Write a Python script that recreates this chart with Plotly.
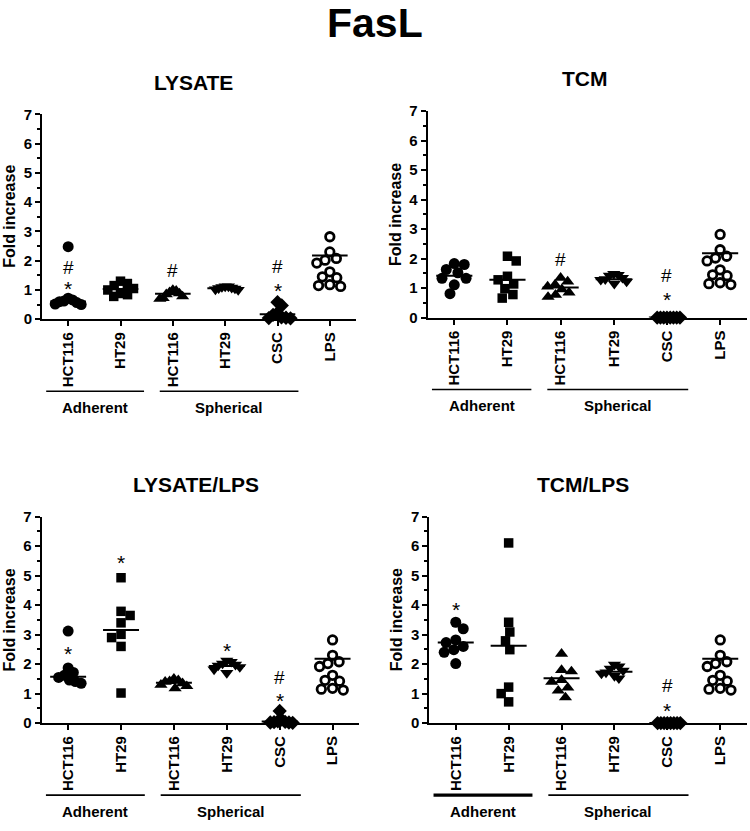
import numpy as np
import plotly.graph_objects as go

W, H = 750, 831
FONT = "Liberation Sans"

# ---------------- data ----------------
tick_labels = ["HCT116", "HT29", "HCT116", "HT29", "CSC", "LPS"]
panel_titles = ["LYSATE", "TCM", "LYSATE/LPS", "TCM/LPS"]
main_title = "FasL"
group_names = ["Adherent", "Spherical"]

lps_values = [2.82, 2.30, 2.08, 2.02, 1.92, 1.62, 1.45, 1.42, 1.18, 1.15, 1.12]

# LYSATE
lys_hct116_adh = [2.48, 0.72, 0.66, 0.62, 0.60, 0.57, 0.52, 0.50]
lys_ht29_adh = [1.30, 1.22, 1.15, 1.05, 1.00, 0.88, 0.84, 0.78]
lys_hct116_sph = [1.00, 0.97, 0.92, 0.88, 0.85, 0.78, 0.72, 0.70]
lys_ht29_sph = [1.12, 1.12, 1.10, 1.08, 1.06, 1.05, 1.02, 1.00]
lys_csc = [0.58, 0.47, 0.22, 0.15, 0.06, 0.05, 0.04, 0.03]
lys_lines = [0.61, 1.03, 0.87, 1.06, 0.17, 2.18]

# TCM
tcm_hct116_adh = [1.83, 1.80, 1.63, 1.52, 1.33, 1.33, 1.11, 0.81]
tcm_ht29_adh = [2.08, 1.92, 1.40, 1.28, 1.14, 0.98, 0.78, 0.66]
tcm_hct116_sph = [1.35, 1.22, 1.12, 1.05, 0.96, 0.85, 0.77, 0.70]
tcm_ht29_sph = [1.48, 1.45, 1.42, 1.35, 1.30, 1.28, 1.22, 1.15]
tcm_csc = [0.0, 0.0, 0.0, 0.0, 0.0, 0.0, 0.0, 0.0]
tcm_lines = [1.42, 1.28, 1.02, 1.30, 0.0, 2.18]

# LYSATE/LPS
lyslps_hct116_adh = [3.12, 1.87, 1.72, 1.62, 1.55, 1.46, 1.41, 1.35]
lyslps_ht29_adh = [4.93, 3.79, 3.65, 3.40, 3.01, 2.90, 2.60, 1.02]
lyslps_hct116_sph = [1.50, 1.45, 1.42, 1.40, 1.35, 1.30, 1.25, 1.18]
lyslps_ht29_sph = [2.12, 2.08, 2.02, 1.98, 1.95, 1.90, 1.82, 1.70]
lyslps_csc = [0.41, 0.12, 0.06, 0.04, 0.03, 0.02, 0.02, 0.01]
lyslps_lines = [1.57, 3.16, 1.37, 1.94, 0.05, 2.18]

# TCM/LPS
tcmlps_hct116_adh = [3.42, 3.20, 2.82, 2.73, 2.60, 2.49, 2.40, 2.02]
tcmlps_ht29_adh = [6.11, 3.42, 3.09, 2.79, 2.49, 1.22, 1.00, 0.72]
tcmlps_hct116_sph = [2.35, 1.80, 1.75, 1.46, 1.40, 1.20, 1.10, 0.87]
tcmlps_ht29_sph = [1.98, 1.92, 1.85, 1.78, 1.72, 1.68, 1.60, 1.52]
tcmlps_csc = [0.0, 0.0, 0.0, 0.0, 0.0, 0.0, 0.0, 0.0]
tcmlps_lines = [2.73, 2.62, 1.52, 1.74, 0.0, 2.18]

# significance marks: (category index, symbol, y value)
lys_marks = [(0, "*", 1.17), (0, "#", 1.74), (2, "#", 1.62), (4, "*", 1.09), (4, "#", 1.76)]
tcm_marks = [(2, "#", 1.94), (4, "*", 0.72), (4, "#", 1.38)]
lyslps_marks = [(0, "*", 2.46), (1, "*", 5.54), (3, "*", 2.57), (4, "*", 0.87), (4, "#", 1.52)]
tcmlps_marks = [(0, "*", 3.95), (4, "*", 0.54), (4, "#", 1.24)]

panels_data = [
    [lys_hct116_adh, lys_ht29_adh, lys_hct116_sph, lys_ht29_sph, lys_csc, lps_values],
    [tcm_hct116_adh, tcm_ht29_adh, tcm_hct116_sph, tcm_ht29_sph, tcm_csc, lps_values],
    [lyslps_hct116_adh, lyslps_ht29_adh, lyslps_hct116_sph, lyslps_ht29_sph, lyslps_csc, lps_values],
    [tcmlps_hct116_adh, tcmlps_ht29_adh, tcmlps_hct116_sph, tcmlps_ht29_sph, tcmlps_csc, lps_values],
]
panels_lines = [lys_lines, tcm_lines, lyslps_lines, tcmlps_lines]
panels_marks = [lys_marks, tcm_marks, lyslps_marks, tcmlps_marks]

# ---------------- layout geometry (pixels) ----------------
# (left, right, top(y=7), bottom(y=0))
boxes = [(42, 356, 107.7, 316.7), (427.7, 746.7, 104.3, 315.0),
         (41.7, 359, 518.3, 729.0), (429.3, 746.7, 518.3, 729.0)]
title_pos = [(193, 75), (585, 71), (195.7, 485), (583, 485)]
group_spans = [(-0.42, 1.45), (1.75, 4.4)]
adherent_width = [1.6, 1.6, 1.6, 3.2]

styles = [
    dict(symbol="circle", size=11, color="black"),
    dict(symbol="square", size=9.5, color="black"),
    dict(symbol="triangle-up", size=11.5, color="black"),
    dict(symbol="triangle-down", size=11.5, color="black"),
    dict(symbol="diamond", size=11, color="black"),
    dict(symbol="circle-open", size=8.5, color="black", line=dict(width=2.8, color="black")),
]


def swarm(values, xppu, yppu, d=10.0, maxhalf=13.0):
    vals = np.asarray(values, float)
    order = np.argsort(-vals, kind="stable")
    placed = []
    offs = np.zeros(len(vals))
    flip = 1
    for i in order:
        y = vals[i] * yppu
        cands = [0.0]
        for (px, py) in placed:
            dy = y - py
            if abs(dy) < d:
                dx = np.sqrt(d * d - dy * dy)
                cands += [px + dx, px - dx]
        cands.sort(key=lambda c: (round(abs(c), 3), -flip * c))
        chosen = 0.0
        for c in cands:
            if all((c - px) ** 2 + (y - py) ** 2 >= d * d - 1e-6 for px, py in placed):
                chosen = c
                break
        if chosen != 0:
            flip = -flip
        placed.append((chosen, y))
        offs[i] = chosen
    m = np.max(np.abs(offs))
    if m > maxhalf:
        offs *= maxhalf / m
    return offs / xppu


fig = go.Figure()
annotations = []
shapes = []

bold = dict(family=FONT, color="black", weight="bold")

for p in range(4):
    L, R, T, B = boxes[p]
    xa = "xaxis" if p == 0 else f"xaxis{p + 1}"
    ya = "yaxis" if p == 0 else f"yaxis{p + 1}"
    xr = "x" if p == 0 else f"x{p + 1}"
    yr = "y" if p == 0 else f"y{p + 1}"
    xppu = (R - L) / 6.0
    yppu = (B - T) / 7.0

    for c, vals in enumerate(panels_data[p]):
        offs = swarm(vals, xppu, yppu)
        st = dict(styles[c])
        fig.add_trace(go.Scatter(
            x=c + offs, y=vals, mode="markers", xaxis=xr, yaxis=yr,
            marker=st, cliponaxis=False, showlegend=False, hoverinfo="y"))
        shapes.append(dict(type="line", xref=xr, yref=yr, x0=c - 0.34, x1=c + 0.34,
                           y0=panels_lines[p][c], y1=panels_lines[p][c],
                           line=dict(color="black", width=2)))

    for (c, sym, yv) in panels_marks[p]:
        annotations.append(dict(xref=xr, yref=yr, x=c, y=yv, text=sym, showarrow=False,
                                xanchor="center", yanchor="middle",
                                yshift=-3 if sym == "*" else 1,
                                font=dict(family=FONT, size=21 if sym == "*" else 19, color="black")))

    fig.layout[xa] = dict(
        domain=[L / W, R / W], range=[-0.5, 5.5], anchor=yr,
        tickmode="array", tickvals=list(range(6)), ticktext=tick_labels,
        tickangle=-90, ticks="outside", ticklen=5, tickwidth=2, tickcolor="black",
        showline=True, linecolor="black", linewidth=2, showgrid=False, zeroline=False,
        tickfont=dict(size=15, **bold), fixedrange=True)
    fig.layout[ya] = dict(
        domain=[1 - B / H, 1 - T / H], range=[0, 7], anchor=xr,
        tickmode="array", tickvals=list(range(8)),
        ticks="outside", ticklen=5, tickwidth=2, tickcolor="black",
        minor=dict(tickvals=[k + 0.5 for k in range(7)], ticks="outside", ticklen=3,
                   tickwidth=1.5, tickcolor="black"),
        showline=True, linecolor="black", linewidth=2, showgrid=False, zeroline=False,
        tickfont=dict(size=15, **bold), fixedrange=True)

    # y axis title
    annotations.append(dict(xref="paper", yref="paper", x=(L - 32) / W, y=1 - (T + B) / 2 / H,
                            text="Fold increase", textangle=-90, showarrow=False,
                            xanchor="center", yanchor="middle", font=dict(size=16, **bold)))
    # panel title
    tx, ty = title_pos[p]
    annotations.append(dict(xref="paper", yref="paper", x=tx / W, y=1 - ty / H,
                            text=panel_titles[p], showarrow=False, xanchor="center",
                            yanchor="middle", font=dict(size=21, **bold)))
    # group brackets
    line_y = B + 73.5
    for g, (a, b) in enumerate(group_spans):
        shapes.append(dict(type="line", xref=xr, yref="paper", x0=a, x1=b,
                           y0=1 - line_y / H, y1=1 - line_y / H,
                           line=dict(color="black", width=adherent_width[p] if g == 0 else 1.6)))
        annotations.append(dict(xref=xr, yref="paper", x=(a + b) / 2, y=1 - (line_y + 16.5) / H,
                                text=group_names[g], showarrow=False, xanchor="center",
                                yanchor="middle", font=dict(size=15, **bold)))

annotations.append(dict(xref="paper", yref="paper", x=375 / W, y=1 - 14 / H, text=main_title,
                        showarrow=False, xanchor="center", yanchor="middle",
                        font=dict(size=41, **bold)))

fig.update_layout(width=W, height=H, margin=dict(l=0, r=0, t=0, b=0),
                  paper_bgcolor="white", plot_bgcolor="white",
                  annotations=annotations, shapes=shapes, showlegend=False,
                  font=dict(family=FONT, color="black"))

fig.write_html("out.html", config={"displayModeBar": False},
               post_script="document.body.style.margin='0';document.body.style.padding='0';")
